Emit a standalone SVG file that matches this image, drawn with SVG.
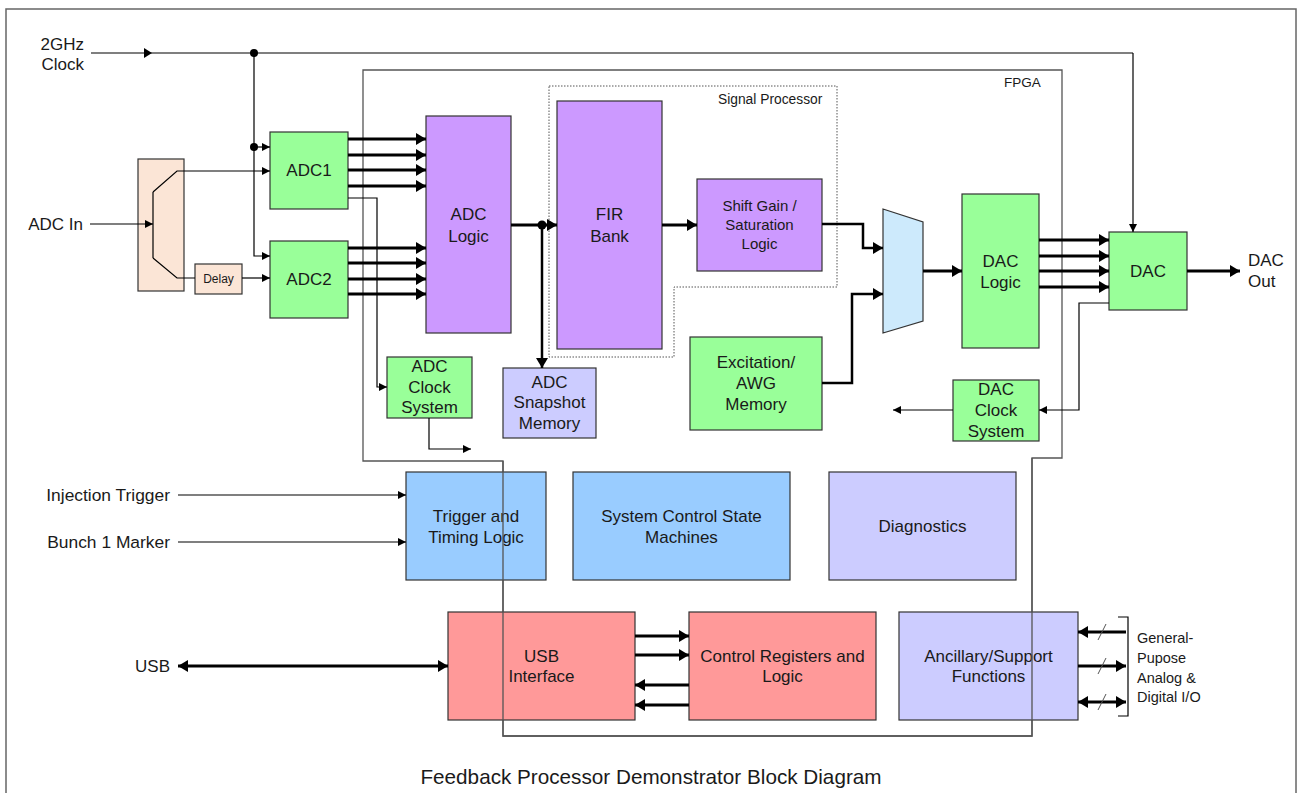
<svg xmlns="http://www.w3.org/2000/svg" width="1298" height="793" viewBox="0 0 1298 793">
  <defs>
    <marker id="ah" markerUnits="userSpaceOnUse" markerWidth="8" markerHeight="10" viewBox="0 0 8 10" refX="8" refY="5" orient="auto">
      <path d="M0,1 L8,5 L0,9 z" fill="#000"/>
    </marker>
    <marker id="ahb" markerUnits="userSpaceOnUse" markerWidth="10" markerHeight="12" viewBox="0 0 10 12" refX="10" refY="6" orient="auto-start-reverse">
      <path d="M0,0 L10,6 L0,12 z" fill="#000"/>
    </marker>
    <style>
      .box { stroke: #333; stroke-width: 1.2; }
      .green { fill: #99ff99; }
      .purple { fill: #cc99ff; }
      .lav { fill: #ccccff; }
      .blue { fill: #99ccff; }
      .red { fill: #ff9999; }
      .peach { fill: #fbe5d6; }
      .mux { fill: #cdeafc; }
      text { font-family: "Liberation Sans", Arial, sans-serif; fill: #1a1a1a; }
      .t17 { font-size: 17px; }
      .t15 { font-size: 15px; }
      .t14 { font-size: 14.5px; }
      .t13 { font-size: 13.5px; }
      .t12 { font-size: 12px; }
      .mid { text-anchor: middle; }
      .end { text-anchor: end; }
      .thin { fill: none; stroke: #000; stroke-width: 1.2; marker-end: url(#ah); }
      .thinp { fill: none; stroke: #000; stroke-width: 1.2; }
      .bus { fill: none; stroke: #000; stroke-width: 3; marker-end: url(#ahb); }
      .mid2 { fill: none; stroke: #000; stroke-width: 2.5; marker-end: url(#ahb); }
      .outline { fill: none; stroke: #555; stroke-width: 1.3; }
    </style>
  </defs>

  <!-- page frame -->
  <rect x="6" y="9" width="1290" height="800" fill="#fff" stroke="#666" stroke-width="1.5"/>

  <!-- FPGA boundary -->
  <g id="fpga">
    <path class="outline" d="M363,70 H1062 V458 H1032 V736 H503 V461 H363 Z"/>
    <text class="t13" x="1004" y="87">FPGA</text>
  </g>

  <!-- Signal processor region -->
  <g id="signal-processor">
    <path d="M549,86 H837 V287 H674 V357 H549 Z" fill="none" stroke="#555" stroke-width="1" stroke-dasharray="1.5 1.5"/>
    <text x="718" y="104" font-size="13.8">Signal Processor</text>
  </g>

  <!-- external labels -->
  <g id="labels">
    <text class="t17 end" x="84" y="50">2GHz</text>
    <text class="t17 end" x="84" y="70">Clock</text>
    <text class="t17 end" x="83" y="230">ADC In</text>
    <text class="end" x="170" y="501" font-size="17.4">Injection Trigger</text>
    <text class="end" x="170" y="548" font-size="17.4">Bunch 1 Marker</text>
    <text class="t17 end" x="170" y="672">USB</text>
    <text class="t17" x="1248" y="266">DAC</text>
    <text class="t17" x="1248" y="287">Out</text>
    <text class="t14" x="1137" y="643">General-</text>
    <text class="t14" x="1137" y="663">Pupose</text>
    <text class="t14" x="1137" y="683">Analog &amp;</text>
    <text class="t14" x="1137" y="702">Digital I/O</text>
    <text class="mid" x="651" y="784" font-size="20.7">Feedback Processor Demonstrator Block Diagram</text>
  </g>

  <!-- nodes -->
  <g id="splitter">
    <rect class="box peach" x="138" y="159" width="46" height="132"/>
  </g>
  <g id="delay">
    <rect class="box peach" x="195" y="264" width="47" height="30"/>
    <text class="t12 mid" x="218.5" y="283">Delay</text>
  </g>
  <g id="adc1">
    <rect class="box green" x="270" y="132" width="78" height="77"/>
    <text class="t17 mid" x="309" y="176">ADC1</text>
  </g>
  <g id="adc2">
    <rect class="box green" x="270" y="241" width="78" height="77"/>
    <text class="t17 mid" x="309" y="285">ADC2</text>
  </g>
  <g id="adc-logic">
    <rect class="box purple" x="426" y="116" width="85" height="217"/>
    <text class="t17 mid" x="468.5" y="220">ADC</text>
    <text class="t17 mid" x="468.5" y="242">Logic</text>
  </g>
  <g id="fir-bank">
    <rect class="box purple" x="557" y="101" width="105" height="248"/>
    <text class="t17 mid" x="609.5" y="220">FIR</text>
    <text class="t17 mid" x="609.5" y="242">Bank</text>
  </g>
  <g id="shift-gain">
    <rect class="box purple" x="697" y="179" width="125" height="92"/>
    <text class="t15 mid" x="759.5" y="211">Shift Gain /</text>
    <text class="t15 mid" x="759.5" y="230">Saturation</text>
    <text class="t15 mid" x="759.5" y="249">Logic</text>
  </g>
  <g id="mux">
    <polygon class="box mux" points="883,209 923,222 923,321 883,333"/>
  </g>
  <g id="dac-logic">
    <rect class="box green" x="962" y="194" width="77" height="154"/>
    <text class="t17 mid" x="1000.5" y="267">DAC</text>
    <text class="t17 mid" x="1000.5" y="288">Logic</text>
  </g>
  <g id="dac">
    <rect class="box green" x="1109" y="232" width="78" height="78"/>
    <text class="t17 mid" x="1148" y="277">DAC</text>
  </g>
  <g id="adc-clock">
    <rect class="box green" x="387" y="357" width="85" height="61"/>
    <text class="t17 mid" x="429.5" y="372">ADC</text>
    <text class="t17 mid" x="429.5" y="393">Clock</text>
    <text class="t17 mid" x="429.5" y="413">System</text>
  </g>
  <g id="adc-snapshot">
    <rect class="box lav" x="503" y="368" width="93" height="70"/>
    <text class="t17 mid" x="549.5" y="388">ADC</text>
    <text class="t17 mid" x="549.5" y="408">Snapshot</text>
    <text class="t17 mid" x="549.5" y="429">Memory</text>
  </g>
  <g id="excitation">
    <rect class="box green" x="690" y="337" width="132" height="93"/>
    <text class="t17 mid" x="756" y="368">Excitation/</text>
    <text class="t17 mid" x="756" y="389">AWG</text>
    <text class="t17 mid" x="756" y="410">Memory</text>
  </g>
  <g id="dac-clock">
    <rect class="box green" x="953" y="380" width="86" height="61"/>
    <text class="t17 mid" x="996" y="395">DAC</text>
    <text class="t17 mid" x="996" y="416">Clock</text>
    <text class="t17 mid" x="996" y="437">System</text>
  </g>
  <g id="trigger-timing">
    <rect class="box blue" x="406" y="472" width="140" height="108"/>
    <text class="t17 mid" x="476" y="522">Trigger and</text>
    <text class="t17 mid" x="476" y="543">Timing Logic</text>
  </g>
  <g id="state-machines">
    <rect class="box blue" x="573" y="472" width="217" height="108"/>
    <text class="t17 mid" x="681.5" y="522">System Control State</text>
    <text class="t17 mid" x="681.5" y="543">Machines</text>
  </g>
  <g id="diagnostics">
    <rect class="box lav" x="829" y="472" width="187" height="108"/>
    <text class="t17 mid" x="922.5" y="532">Diagnostics</text>
  </g>
  <g id="usb-interface">
    <rect class="box red" x="448" y="612" width="187" height="108"/>
    <text class="t17 mid" x="541.5" y="662">USB</text>
    <text class="t17 mid" x="541.5" y="682">Interface</text>
  </g>
  <g id="control-registers">
    <rect class="box red" x="689" y="612" width="187" height="108"/>
    <text class="t17 mid" x="782.5" y="662">Control Registers and</text>
    <text class="t17 mid" x="782.5" y="682">Logic</text>
  </g>
  <g id="ancillary">
    <rect class="box lav" x="899" y="612" width="179" height="108"/>
    <text class="t17 mid" x="988.5" y="662">Ancillary/Support</text>
    <text class="t17 mid" x="988.5" y="682">Functions</text>
  </g>

  <!-- FPGA boundary lines crossing over blocks -->
  <g id="fpga-overlay">
    <path class="outline" d="M503,461 V736 H1032 V458"/>
  </g>

  <!-- connectors -->
  <g id="connectors">
    <!-- 2 GHz clock distribution -->
    <path class="thinp" d="M91,53 H1133"/>
    <path class="thin" d="M1133,53 V232"/>
    <polygon points="144,48 152,53 144,58" fill="#000"/>
    <path class="thin" d="M254,53 V256 H270"/>
    <path class="thin" d="M254,147 H270"/>
    <circle cx="254" cy="53" r="4" fill="#000"/>
    <circle cx="254" cy="147" r="4" fill="#000"/>

    <!-- analog input splitter -->
    <path class="thin" d="M90,224 H153"/>
    <path class="thinp" d="M153,192 V258"/>
    <path class="thin" d="M153,192 L177,171 H270"/>
    <path class="thinp" d="M153,258 L177,278 H195"/>
    <path class="thin" d="M242,278 H270"/>

    <!-- ADC data buses -->
    <path class="bus" d="M348,139 H426"/>
    <path class="bus" d="M348,155 H426"/>
    <path class="bus" d="M348,170 H426"/>
    <path class="bus" d="M348,186 H426"/>
    <path class="bus" d="M348,248 H426"/>
    <path class="bus" d="M348,263 H426"/>
    <path class="bus" d="M348,279 H426"/>
    <path class="bus" d="M348,294 H426"/>

    <!-- ADC clock system -->
    <path class="thin" d="M348,198 H377 V387 H387"/>
    <path class="thin" d="M429,418 V449 H471"/>

    <!-- ADC logic to FIR bank and snapshot memory -->
    <path class="bus" d="M511,225 H557"/>
    <path class="mid2" d="M542,225 V368"/>
    <circle cx="542" cy="225" r="4.5" fill="#000"/>

    <!-- FIR to shift/saturation -->
    <path class="bus" d="M662,225 H697"/>

    <!-- into the output mux -->
    <path class="mid2" d="M822,224 H863 V248 H883"/>
    <path class="mid2" d="M822,383 H852 V294 H883"/>
    <path class="bus" d="M923,271 H962"/>

    <!-- DAC buses -->
    <path class="bus" d="M1039,240 H1109"/>
    <path class="bus" d="M1039,256 H1109"/>
    <path class="bus" d="M1039,271 H1109"/>
    <path class="bus" d="M1039,287 H1109"/>
    <path class="bus" d="M1187,271 H1240"/>

    <!-- DAC clock system -->
    <path class="thin" d="M1109,303 H1079 V410 H1039"/>
    <path class="thin" d="M953,410 H893"/>

    <!-- trigger inputs -->
    <path class="thin" d="M178,495 H406"/>
    <path class="thin" d="M178,542 H406"/>

    <!-- USB -->
    <path class="bus" d="M178,666 H448" marker-start="url(#ahb)"/>
    <path class="bus" d="M635,636 H689"/>
    <path class="bus" d="M635,655 H689"/>
    <path class="bus" d="M689,685 H635"/>
    <path class="bus" d="M689,705 H635"/>

    <!-- general purpose I/O -->
    <path class="bus" d="M1126,632 H1078"/>
    <path class="bus" d="M1078,666 H1126"/>
    <path class="bus" d="M1078,702 H1126" marker-start="url(#ahb)"/>
    <path d="M1098,640 L1106,624 M1098,674 L1106,658 M1098,710 L1106,694" stroke="#555" stroke-width="1"/>
    <path class="thinp" d="M1118,617 H1128 V716 H1118"/>
  </g>
</svg>
